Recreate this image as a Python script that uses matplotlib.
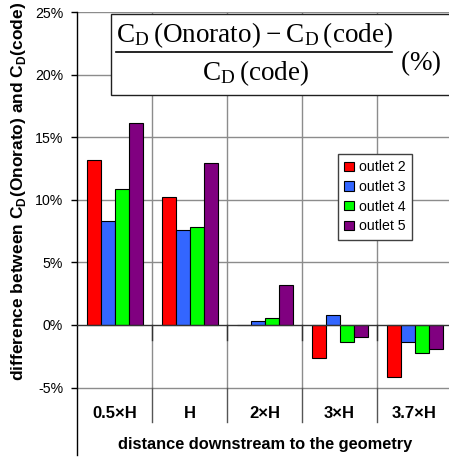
import matplotlib
matplotlib.use("Agg")
import matplotlib.pyplot as plt
from matplotlib.patches import Patch, Rectangle
from matplotlib.lines import Line2D
import matplotlib.transforms as mtransforms

plt.rcParams['font.family'] = ['Liberation Sans', 'DejaVu Sans']
plt.rcParams['mathtext.fontset'] = 'custom'
plt.rcParams['mathtext.rm'] = 'Liberation Serif'
plt.rcParams['mathtext.bf'] = 'Liberation Sans:bold'

categories = ['0.5×H', 'H', '2×H', '3×H', '3.7×H']
series_names = ['outlet 2', 'outlet 3', 'outlet 4', 'outlet 5']
outlet2 = [13.2, 10.2, 0.02, -2.6, -4.15]
outlet3 = [8.3, 7.55, 0.35, 0.77, -1.38]
outlet4 = [10.85, 7.8, 0.53, -1.36, -2.26]
outlet5 = [16.1, 12.95, 3.2, -0.93, -1.94]
colors = ['#FF0000', '#3366FF', '#00FF00', '#800080']
yticks = [-5, 0, 5, 10, 15, 20, 25]

W, H = 449, 459
fig = plt.figure(figsize=(W / 100, H / 100), dpi=100)

def fx(px):
    return px / W

def fy(py):
    return 1 - py / H

ax = fig.add_axes([fx(77), fy(455), 375 / W, 443 / H])
ax.set_xlim(0, len(categories))
ax.set_ylim(25 - 443 / 12.52, 25)

# grid
for v in yticks:
    if v == 0:
        continue
    ax.axhline(v, color='#8c8c8c', lw=1, zorder=1)
for i in range(1, len(categories)):
    ax.plot([i, i], [-5, 25], color='#8c8c8c', lw=1, zorder=1)
    ax.plot([i, i], [-7.75, -5], color='#555555', lw=1, zorder=1)
    ax.plot([i, i], [-1.2, 0], color='#333333', lw=1, zorder=3)

series = [outlet2, outlet3, outlet4, outlet5]
w = 14 / 75
for j, (vals, c, name) in enumerate(zip(series, colors, series_names)):
    xs = [i + 0.5 + (j - 1.5) * w for i in range(len(categories))]
    ax.bar(xs, vals, width=w, color=c, edgecolor='black', linewidth=0.8, zorder=2, label=name)

ax.axhline(0, color='#333333', lw=1, zorder=3)

for s in ['top', 'right', 'bottom']:
    ax.spines[s].set_visible(False)
ax.spines['left'].set_color('black')
ax.spines['left'].set_linewidth(1)
ax.set_xticks([])
ax.set_yticks(yticks)
ax.set_yticklabels([f'{v}%' for v in yticks], fontsize=10.2)
ax.tick_params(axis='y', direction='out', length=4, width=1, pad=6, colors='black')

blend = mtransforms.blended_transform_factory(ax.transData, fig.transFigure)
for i, cat in enumerate(categories):
    ax.text(i + 0.5, fy(413), cat, transform=blend, ha='center', va='center',
            fontsize=12, fontweight='bold')

fig.text(fx(265), fy(445), 'distance downstream to the geometry', ha='center', va='center',
         fontsize=11.8, fontweight='bold')
fig.text(fx(19), fy(191), r'difference between C$_\mathbf{D}$(Onorato) and C$_\mathbf{D}$(code)',
         rotation=90, ha='center', va='center', fontsize=12.5, fontweight='bold')

# legend
handles = [Patch(facecolor=c, edgecolor='black', linewidth=0.8) for c in colors]
leg = fig.legend(handles, series_names, loc='upper left',
                 bbox_to_anchor=(fx(338), fy(154)), fontsize=10.2, frameon=True,
                 fancybox=False, framealpha=1, edgecolor='#404040',
                 handlelength=0.65, handleheight=0.65, handletextpad=0.4,
                 labelspacing=0.4, borderpad=0.45, borderaxespad=0)
leg.get_frame().set_linewidth(1)

# formula box
box = Rectangle((fx(111), fy(95)), fx(470) - fx(111), fy(14) - fy(95),
                transform=fig.transFigure, facecolor='white', edgecolor='#202020',
                lw=1, zorder=4)
fig.add_artist(box)
fig.text(fx(254), fy(42), r'$\mathrm{C_D\,(Onorato) - C_D\,(code)}$', ha='center',
         va='baseline', fontsize=19.5, zorder=5)
fig.add_artist(Line2D([fx(116), fx(392)], [fy(52), fy(52)], transform=fig.transFigure,
                      color='black', lw=1.2, zorder=5))
fig.text(fx(256), fy(80), r'$\mathrm{C_D\,(code)}$', ha='center', va='baseline',
         fontsize=19.5, zorder=5)
fig.text(fx(421), fy(70), r'$\mathrm{(\%)}$', ha='center', va='baseline',
         fontsize=19.5, zorder=5)

fig.savefig('out.png', dpi=100)
